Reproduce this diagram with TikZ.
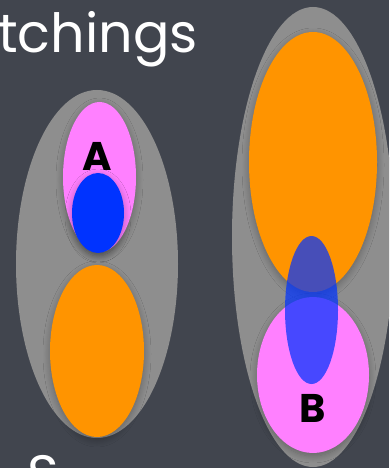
\documentclass[tikz,border=0pt]{standalone}
\usepackage{fontspec}
\setmainfont{Poppins}
\usetikzlibrary{shapes.geometric,shadows.blur}
\definecolor{bg}{HTML}{41454E}
\definecolor{setgray}{HTML}{8E8E8E}
\definecolor{setpink}{HTML}{FF80FF}
\definecolor{setblue}{HTML}{0033FF}
\definecolor{setorange}{HTML}{FF9400}
\begin{document}
\begin{tikzpicture}[x=1pt,y=-1pt,
  blob/.style={ellipse, inner sep=0pt, draw=none},
  sh/.style={blur shadow={shadow xshift=0pt, shadow yshift=-3pt, shadow blur radius=7pt, shadow blur steps=10, shadow opacity=30}},
  letter/.style={font=\fontsize{40}{40}\selectfont\bfseries, text=black, inner sep=0pt},
  title/.style={font=\fontsize{54}{54}\selectfont, text=white, inner sep=0pt}]
\useasboundingbox (0,0) rectangle (389,468);
\clip (0,0) rectangle (389,468);
\fill[bg] (0,0) rectangle (389,468);
\node[title, anchor=base west] (T) at (-2,53) {tchings};
\node[title, anchor=base west] (S) at (27,493) {S};
% left set
\node[blob, fill=setgray, minimum width=162pt, minimum height=348pt] (LG) at (97,264) {};
\node[blob, sh, fill=setpink, minimum width=73pt, minimum height=150pt] (LP) at (99.5,177) {};
\node[blob, sh, fill=setblue, minimum width=52pt, minimum height=80pt] (LB) at (98,213) {};
\node[blob, sh, fill=setorange, minimum width=94pt, minimum height=172pt] (LO) at (97,351) {};
\node[letter] (A) at (97,156) {A};
% right set
\node[blob, fill=setgray, minimum width=162pt, minimum height=460pt] (RG) at (313,237) {};
\node[blob, sh, fill=setorange, minimum width=128pt, minimum height=260pt] (RO) at (313,162) {};
\node[blob, sh, fill=setpink, minimum width=112pt, minimum height=156pt] (RP) at (313,375) {};
\node[blob, fill=setblue, fill opacity=0.72, minimum width=53pt, minimum height=148pt] (RB) at (311.5,310) {};
\node[letter] (B) at (313,408) {B};
\end{tikzpicture}
\end{document}
